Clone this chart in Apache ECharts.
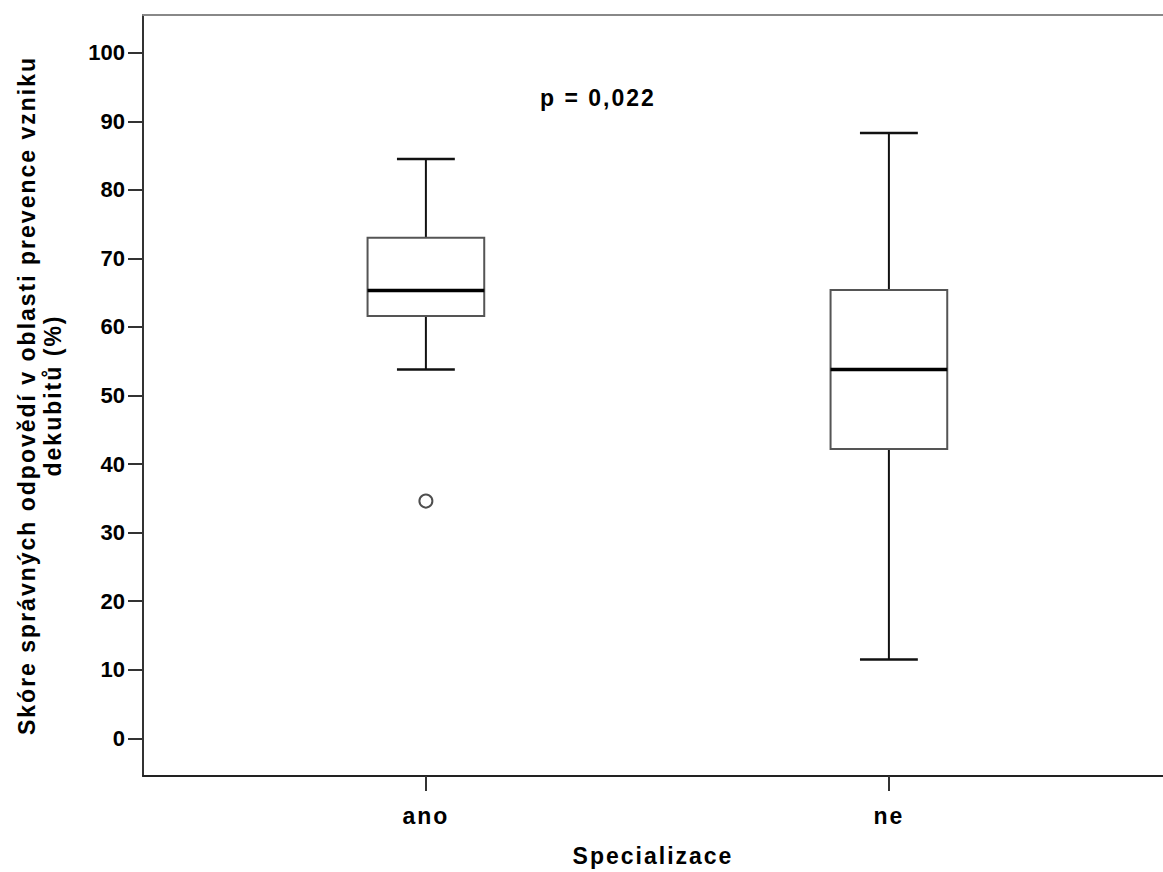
<!DOCTYPE html>
<html>
<head>
<meta charset="utf-8">
<script src="https://cdn.jsdelivr.net/npm/echarts@6/dist/echarts.min.js"></script>
<style>
  html, body { margin: 0; padding: 0; background: #fff; }
  #chart { width: 1163px; height: 872px; }
  #chart svg text[style*="sans-serif"] { letter-spacing: 2px; }
</style>
</head>
<body>
<div id="chart"></div>
<script>
// ---- data ----
const categories = ['ano', 'ne'];
const whiskerLow = [53.8, 11.5];
const q1 = [61.6, 42.2];
const median = [65.3, 53.8];
const q3 = [73.0, 65.4];
const whiskerHigh = [84.5, 88.3];
const outliers = [[0, 34.6]]; // [category index, value]
const yTicks = [0, 10, 20, 30, 40, 50, 60, 70, 80, 90, 100];
const pText = 'p = 0,022';
const xTitle = 'Specializace';
const yTitle = 'Skóre správných odpovědí v oblasti prevence vzniku\ndekubitů (%)';

// ---- chart ----
const FONT_SPACED = '"Liberation Sans", sans-serif';   // titles, category labels
const FONT_TICK = '"Liberation Sans", Arial';          // numeric ticks
const chart = echarts.init(document.getElementById('chart'), null, { renderer: 'svg' });

const boxData = categories.map((c, i) => [i + 1, whiskerLow[i], q1[i], median[i], q3[i], whiskerHigh[i]]);
const outlierData = outliers.map(o => [o[0] + 1, o[1]]);
const catPositions = categories.map((c, i) => i + 1);

const BOX_W = 0.252, CAP_W = 0.125;

function renderBox(params, api) {
  const x = api.value(0);
  const lo = api.coord([x, api.value(1)]);
  const b1 = api.coord([x, api.value(2)]);
  const md = api.coord([x, api.value(3)]);
  const b3 = api.coord([x, api.value(4)]);
  const hi = api.coord([x, api.value(5)]);
  const bw = api.size([BOX_W, 0])[0];
  const cw = api.size([CAP_W, 0])[0];
  const cx = lo[0];
  const black = { stroke: '#111', lineWidth: 2 };
  return {
    type: 'group',
    children: [
      { type: 'line', shape: { x1: cx, y1: b1[1], x2: cx, y2: lo[1] }, style: black },
      { type: 'line', shape: { x1: cx, y1: b3[1], x2: cx, y2: hi[1] }, style: black },
      { type: 'line', shape: { x1: cx - cw / 2, y1: lo[1], x2: cx + cw / 2, y2: lo[1] }, style: { stroke: '#111', lineWidth: 2.5 } },
      { type: 'line', shape: { x1: cx - cw / 2, y1: hi[1], x2: cx + cw / 2, y2: hi[1] }, style: { stroke: '#111', lineWidth: 2.5 } },
      { type: 'rect', shape: { x: cx - bw / 2, y: b3[1], width: bw, height: b1[1] - b3[1] }, style: { fill: '#fff', stroke: '#555', lineWidth: 2 } },
      { type: 'line', shape: { x1: cx - bw / 2, y1: md[1], x2: cx + bw / 2, y2: md[1] }, style: { stroke: '#000', lineWidth: 3.5 } }
    ]
  };
}

const xMin = 0.389, xMax = 2.592;

chart.setOption({
  animation: false,
  backgroundColor: '#fff',
  textStyle: { fontFamily: FONT_SPACED },
  grid: { left: 143, right: 0, top: 15, bottom: 95 },
  xAxis: [{
    type: 'value',
    min: xMin, max: xMax,
    splitLine: { show: false },
    axisLine: { show: true, onZero: false, lineStyle: { color: '#222', width: 2 } },
    axisTick: { show: true, length: 15, customValues: catPositions, lineStyle: { color: '#333', width: 2 } },
    axisLabel: {
      customValues: catPositions,
      formatter: v => categories[Math.round(v) - 1] || '',
      color: '#000', fontSize: 23, fontWeight: 'bold', fontFamily: FONT_SPACED, margin: 28
    },
    name: xTitle,
    nameLocation: 'middle',
    nameGap: 68,
    nameTextStyle: { color: '#000', fontSize: 23, fontWeight: 'bold', fontFamily: FONT_SPACED }
  }, {
    type: 'value',
    position: 'top',
    min: xMin, max: xMax,
    splitLine: { show: false },
    axisLine: { show: true, onZero: false, lineStyle: { color: '#888', width: 2 } },
    axisTick: { show: false },
    axisLabel: { show: false }
  }],
  yAxis: {
    type: 'value',
    min: -5.5, max: 105.5,
    splitLine: { show: false },
    axisLine: { show: true, onZero: false, lineStyle: { color: '#333', width: 2 } },
    axisTick: { show: true, length: 15, customValues: yTicks, lineStyle: { color: '#333', width: 2 } },
    axisLabel: {
      customValues: yTicks,
      color: '#000', fontSize: 22, fontWeight: 'bold', fontFamily: FONT_TICK, margin: 18
    },
    name: yTitle,
    nameLocation: 'middle',
    nameRotate: 90,
    nameGap: 77,
    nameTextStyle: { color: '#000', fontSize: 23, fontWeight: 'bold', fontFamily: FONT_SPACED, lineHeight: 26, align: 'center' }
  },
  graphic: [{
    type: 'text',
    left: 540, top: 86,
    style: { text: pText, fill: '#000', font: 'bold 23px ' + FONT_SPACED }
  }],
  series: [{
    type: 'custom',
    renderItem: renderBox,
    data: boxData,
    encode: { x: 0, y: [1, 2, 3, 4, 5] },
    z: 3
  }, {
    type: 'scatter',
    data: outlierData,
    symbol: 'circle',
    symbolSize: 13,
    itemStyle: { color: '#fff', borderColor: '#222', borderWidth: 2 },
    z: 4
  }]
});
</script>
</body>
</html>
